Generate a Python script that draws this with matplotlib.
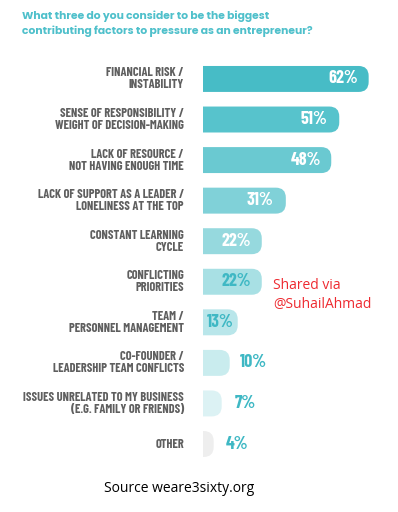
import matplotlib
matplotlib.use("Agg")
import matplotlib.pyplot as plt
from matplotlib.path import Path
from matplotlib.patches import PathPatch

# survey answers, top to bottom
factors = [
    "FINANCIAL RISK /\nINSTABILITY",
    "SENSE OF RESPONSIBILITY /\nWEIGHT OF DECISION-MAKING",
    "LACK OF RESOURCE /\nNOT HAVING ENOUGH TIME",
    "LACK OF SUPPORT AS A LEADER /\nLONELINESS AT THE TOP",
    "CONSTANT LEARNING\nCYCLE",
    "CONFLICTING\nPRIORITIES",
    "TEAM /\nPERSONNEL MANAGEMENT",
    "CO-FOUNDER /\nLEADERSHIP TEAM CONFLICTS",
    "ISSUES UNRELATED TO MY BUSINESS\n(E.G. FAMILY OR FRIENDS)",
    "OTHER",
]
shares = [62, 51, 48, 31, 22, 22, 13, 10, 7, 4]

bar_colors = ["#47bcc6", "#57c3cc", "#6ac9d1", "#80d1d8", "#96d9de",
              "#a8e0e4", "#b9e6ea", "#c9ecee", "#dcf2f4", "#eeeeee"]
label_colors = ["white"] * 5 + ["#3fb8c4"] * 5

TEAL = "#4fc0cb"
GREY = "#5f5f5f"
NARROW = ["Barlow Condensed", "Archivo Narrow", "DejaVu Sans"]
ROUND = ["Poppins", "Open Sans", "DejaVu Sans"]
PLAIN = ["Selawik", "Open Sans", "DejaVu Sans"]

fig = plt.figure(figsize=(3.98, 5.12), dpi=100)
ax = fig.add_axes([0.51, 0.0932, 0.47, 0.7922])
ax.set_xlim(0, 70)
ax.set_ylim(9.5, -0.5)
ax.axis("off")

bars = ax.barh(range(len(shares)), shares, height=0.64, color=bar_colors)

# rounded right end: radius in pixels, converted to data units
p0 = ax.transData.transform((0, 0))
p1 = ax.transData.transform((1, 1))
ppx = abs(p1[0] - p0[0])
ppy = abs(p1[1] - p0[1])
r_px = 10
for rect in bars:
    x0, y0 = rect.get_x(), rect.get_y()
    w, h = rect.get_width(), rect.get_height()
    rx = min(r_px / ppx, w)
    ry = min(r_px / ppy, h / 2)
    x1, y1 = x0 + w, y0 + h
    verts = [(x0, y0), (x1 - rx, y0), (x1, y0), (x1, y0 + ry),
             (x1, y1 - ry), (x1, y1), (x1 - rx, y1), (x0, y1), (x0, y0)]
    codes = [Path.MOVETO, Path.LINETO, Path.CURVE3, Path.CURVE3,
             Path.LINETO, Path.CURVE3, Path.CURVE3, Path.LINETO, Path.CLOSEPOLY]
    ax.add_patch(PathPatch(Path(verts, codes), facecolor=rect.get_facecolor(),
                           edgecolor="none"))
    rect.set_visible(False)

for i, (name, v) in enumerate(zip(factors, shares)):
    ax.text(-19 / ppx, i, name, ha="right", va="center", fontsize=9,
            fontweight="bold", color=GREY, family=NARROW, linespacing=1.12)
    if v >= 13:
        xt = max(v - 9.6, 6.4)
    else:
        xt = v + 8.7
    ax.text(xt, i, f"{v}%", ha="center", va="center", fontsize=13,
            fontweight="bold", color=label_colors[i], family=NARROW)

fig.text(22 / 398, 1 - 10 / 512,
         "What three do you consider to be the biggest\n"
         "contributing factors to pressure as an entrepreneur?",
         ha="left", va="top", fontsize=7.8, fontweight="bold", color=TEAL,
         family=ROUND, linespacing=1.45)

fig.text(273 / 398, 1 - 295 / 512, "Shared via\n@SuhailAhmad", ha="left",
         va="center", fontsize=10, color="#ee2a30", family=PLAIN,
         linespacing=1.3)

fig.text(179 / 398, 1 - 489 / 512, "Source weare3sixty.org", ha="center",
         va="center", fontsize=10, color="black", family=PLAIN)

fig.savefig("out.png", dpi=100)
